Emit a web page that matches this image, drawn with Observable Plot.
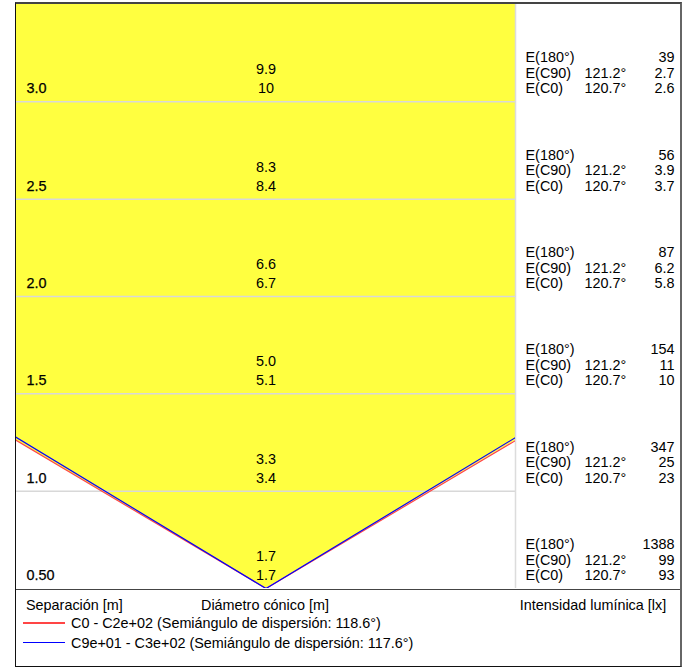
<!DOCTYPE html>
<html>
<head>
<meta charset="utf-8">
<script src="https://cdn.jsdelivr.net/npm/d3@7"></script>
<script src="https://cdn.jsdelivr.net/npm/@observablehq/plot@0.6"></script>
<style>
  body { margin: 0; background: #fff; font-family: "Liberation Sans", Arial, sans-serif; }
  #wrap { position: absolute; left: 15px; top: 2px; width: 664px;
          border-left: 1px solid #111; border-top: 2px solid #444;
          border-right: 2px solid #666; border-bottom: 1px solid #111; }
  #wrap svg { display: block; }
  #legend { position: relative; height: 76px; border-top: 1px solid #444; font-size: 14.4px; color: #000; }
  #legend .t { position: absolute; white-space: nowrap; line-height: 16px; transform: translateY(-50%); }
  #legend .ln { position: absolute; width: 42px; height: 0; }
</style>
</head>
<body>
<div id="wrap"><div id="chart"></div><div id="legend"></div></div>
<script>
// ---- data ----
const separations = [0.5, 1.0, 1.5, 2.0, 2.5, 3.0];
const sepLabels = ["0.50", "1.0", "1.5", "2.0", "2.5", "3.0"];
const diamC90 = ["1.7", "3.3", "5.0", "6.6", "8.3", "9.9"];
const diamC0 = ["1.7", "3.4", "5.1", "6.7", "8.4", "10"];
const e180 = ["1388", "347", "154", "87", "56", "39"];
const eC90 = ["99", "25", "11", "6.2", "3.9", "2.7"];
const eC0 = ["93", "23", "10", "5.8", "3.7", "2.6"];
const angleC90 = 121.2;   // degrees
const angleC0 = 120.7;    // degrees
const legendNames = ["C0 - C2e+02 (Semiángulo de dispersión: 118.6°)",
                     "C9e+01 - C3e+02 (Semiángulo de dispersión: 117.6°)"];
const legendColors = ["#ff4545", "#0000ff"];
const maxSep = 3.0;
const halfWidth = 1.28;   // x domain half-width in m

// ---- derived tables ----
const rows = separations.map((d, i) => ({
  d, band: d - 0.5, label: sepLabels[i], c90: diamC90[i], c0: diamC0[i],
  e180: e180[i], eC90: eC90[i], eC0: eC0[i]
}));
function cone(angle) {
  const t = Math.tan((180 - angle) * Math.PI / 180);
  return [{x: -maxSep * t, y: maxSep}, {x: 0, y: 0}, {x: maxSep * t, y: maxSep}];
}
const coneC0 = cone(angleC0);
const coneC90 = cone(angleC90);

const font = 14.4;
const plot = Plot.plot({
  width: 664, height: 585,
  marginLeft: 0, marginRight: 165, marginTop: 0, marginBottom: 1,
  x: {domain: [-halfWidth, halfWidth], axis: null},
  y: {domain: [0, maxSep], axis: null},
  style: {fontFamily: "Liberation Sans, Arial, sans-serif", fontSize: font + "px", color: "#000", background: "#fff"},
  marks: [
    Plot.areaY(coneC0, {x: "x", y1: "y", y2: maxSep, fill: "#ffff40", clip: true}),
    Plot.ruleY(separations.slice(0, -1), {x1: -halfWidth, x2: halfWidth, stroke: "#d8d8d8", strokeWidth: 1.5}),
    Plot.ruleX([halfWidth], {y1: 0, y2: maxSep, stroke: "#dcdcdc", strokeWidth: 1.5}),
    Plot.line(coneC0, {x: "x", y: "y", stroke: legendColors[0], strokeWidth: 1.2, clip: true}),
    Plot.line(coneC90, {x: "x", y: "y", stroke: legendColors[1], strokeWidth: 1.2, clip: true}),
    // separation labels
    Plot.text(rows, {y: "band", text: "label", frameAnchor: "left", dx: 10, dy: -13, textAnchor: "start", fontSize: font, fill: "#000", stroke: "#000", strokeWidth: 0.25}),
    // diameter labels
    Plot.text(rows, {x: 0, y: "band", text: "c90", dy: -32, fontSize: font, fill: "#000"}),
    Plot.text(rows, {x: 0, y: "band", text: "c0", dy: -13, fontSize: font, fill: "#000"}),
    // right panel
    Plot.text(rows, {y: "band", text: () => "E(180°)", frameAnchor: "right", dx: 10, dy: -44, textAnchor: "start", fontSize: font, fill: "#000"}),
    Plot.text(rows, {y: "band", text: () => "E(C90)", frameAnchor: "right", dx: 10, dy: -28.5, textAnchor: "start", fontSize: font, fill: "#000"}),
    Plot.text(rows, {y: "band", text: () => "E(C0)", frameAnchor: "right", dx: 10, dy: -13, textAnchor: "start", fontSize: font, fill: "#000"}),
    Plot.text(rows, {y: "band", text: () => angleC90.toFixed(1) + "°", frameAnchor: "right", dx: 69, dy: -28.5, textAnchor: "start", fontSize: font, fill: "#000"}),
    Plot.text(rows, {y: "band", text: () => angleC0.toFixed(1) + "°", frameAnchor: "right", dx: 69, dy: -13, textAnchor: "start", fontSize: font, fill: "#000"}),
    Plot.text(rows, {y: "band", text: "e180", frameAnchor: "right", dx: 159, dy: -44, textAnchor: "end", fontSize: font, fill: "#000"}),
    Plot.text(rows, {y: "band", text: "eC90", frameAnchor: "right", dx: 159, dy: -28.5, textAnchor: "end", fontSize: font, fill: "#000"}),
    Plot.text(rows, {y: "band", text: "eC0", frameAnchor: "right", dx: 159, dy: -13, textAnchor: "end", fontSize: font, fill: "#000"})
  ]
});
document.getElementById("chart").appendChild(plot);

// ---- legend ----
const leg = d3.select("#legend");
leg.append("div").attr("class", "t").style("left", "10px").style("top", "15px").text("Separación [m]");
leg.append("div").attr("class", "t").style("left", "249px").style("top", "15px")
  .style("transform", "translate(-50%,-50%)").text("Diámetro cónico [m]");
leg.append("div").attr("class", "t").style("left", "577px").style("top", "15px")
  .style("transform", "translate(-50%,-50%)").text("Intensidad lumínica [lx]");
legendNames.forEach((name, i) => {
  const top = 33 + i * 20;
  leg.append("div").attr("class", "ln").style("left", "7px").style("top", (top - 1) + "px")
    .style("border-top", (i === 0 ? 2 : 1.5) + "px solid " + legendColors[i]);
  leg.append("div").attr("class", "t").style("left", "55px").style("top", top + "px").text(name);
});
</script>
</body>
</html>
